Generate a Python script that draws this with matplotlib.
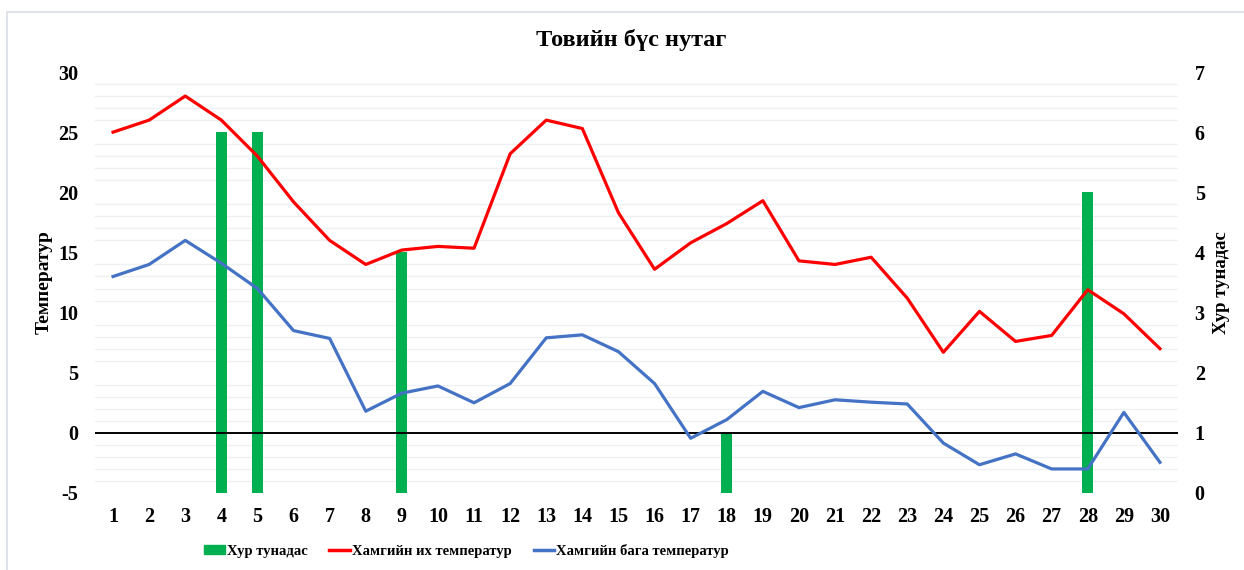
import numpy as np
import matplotlib.pyplot as plt
from matplotlib.patches import Rectangle

# --- Data ---
days = list(range(1, 31))
t_max = [25, 26, 28, 26, 23, 19.2, 16, 14, 15.2, 15.5,
         15.35, 23.2, 26, 25.3, 18.3, 13.6, 15.8, 17.4, 19.3, 14.3,
         14, 14.6, 11.2, 6.7, 10.1, 7.6, 8.1, 11.9, 9.9, 7]
t_min = [13, 14, 16, 14.1, 12, 8.5, 7.85, 1.8, 3.3, 3.9,
         2.5, 4.1, 7.9, 8.15, 6.75, 4.1, -0.45, 1.1, 3.45, 2.1,
         2.75, 2.55, 2.4, -0.85, -2.65, -1.75, -3, -3, 1.7, -2.45]
precip = [0, 0, 0, 6, 6, 0, 0, 0, 4, 0,
          0, 0, 0, 0, 0, 0, 0, 1, 0, 0,
          0, 0, 0, 0, 0, 0, 0, 5, 0, 0]

title = 'Товийн бүс нутаг'
ylabel_left = 'Температур'
ylabel_right = 'Хур тунадас'
lbl_precip = 'Хур тунадас'
lbl_max = 'Хамгийн их температур'
lbl_min = 'Хамгийн бага температур'

plt.rcParams['font.family'] = ['Liberation Serif', 'DejaVu Serif']
plt.rcParams['font.weight'] = 'bold'
plt.rcParams['axes.unicode_minus'] = False

fig = plt.figure(figsize=(12.44, 5.70), dpi=100)
# chart border
fig.patches.append(Rectangle((7 / 1244, -0.1), 1.2, (570 - 12) / 570 + 0.1,
                             transform=fig.transFigure, fill=False,
                             edgecolor='#d9dde3', linewidth=1.2))

ax1 = fig.add_axes([95 / 1244, 77 / 570, 1083 / 1244, 421 / 570])
ax2 = ax1.twinx()
ax1.set_zorder(ax2.get_zorder() + 1)
ax1.patch.set_visible(False)

# precipitation bars (secondary axis, behind)
ax2.bar(days, precip, width=0.3, color='#00B050', zorder=3)
ax2.set_ylim(0, 7)
ax2.set_yticks(range(0, 8))
ax2.set_yticks(np.arange(0, 7.01, 0.2), minor=True)
ax2.grid(axis='y', which='minor', color='#eef0f3', linewidth=1)
ax2.set_xticks(np.arange(1.5, 30, 1), minor=True)
ax2.grid(axis='x', which='minor', color='#d6dce5', linewidth=1)
ax2.set_axisbelow(True)

# temperature lines
ax1.plot(days, t_max, color='#FF0000', linewidth=2.3, zorder=4)
ax1.plot(days, t_min, color='#4472C4', linewidth=2.3, zorder=4)
ax1.axhline(0, color='black', linewidth=1.4, zorder=3)
ax1.set_ylim(-5, 30)
ax1.set_xlim(0.5, 30.5)
ax1.set_yticks(range(-5, 31, 5))
ax1.set_xticks(days)

for ax in (ax1, ax2):
    for s in ax.spines.values():
        s.set_visible(False)
    ax.tick_params(which='both', length=0, labelsize=14.5)
ax1.tick_params(axis='y', pad=12)
ax1.tick_params(axis='x', pad=10)
ax2.tick_params(axis='y', pad=12)

ax1.set_ylabel(ylabel_left, fontsize=14, fontweight='bold', labelpad=4)
ax2.set_ylabel(ylabel_right, fontsize=13.5, fontweight='bold', labelpad=6)
fig.text(0.507, 1 - 40 / 570, title, ha='center', va='center',
         fontsize=17.5, fontweight='bold')

h1 = Rectangle((0, 0), 1, 1, color='#00B050')
h2 = plt.Line2D([], [], color='#FF0000', linewidth=2.5)
h3 = plt.Line2D([], [], color='#4472C4', linewidth=2.5)
fig.legend([h1, h2, h3], [lbl_precip, lbl_max, lbl_min], loc='center',
           bbox_to_anchor=(0.375, 19 / 570), ncol=3, frameon=False,
           fontsize=10.5, handlelength=1.4, handleheight=0.6,
           handletextpad=0.15, columnspacing=1.5)

fig.savefig('out.png', dpi=100)
